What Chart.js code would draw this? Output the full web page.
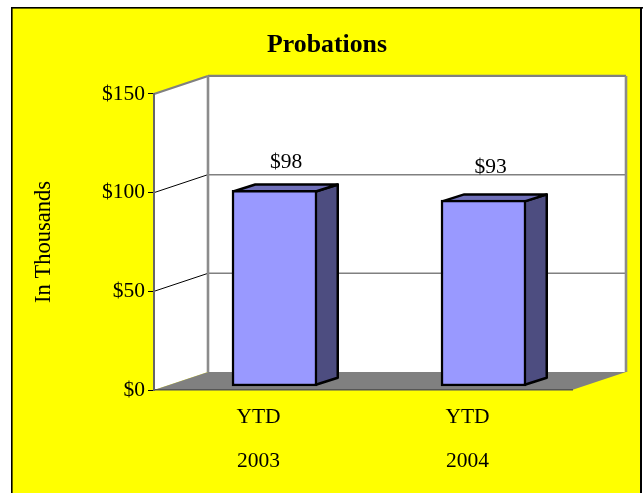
<!DOCTYPE html>
<html><head><meta charset="utf-8">
<style>html,body{margin:0;padding:0;background:#fff}#w{position:relative;width:643px;height:493px}canvas{display:block}</style>
<script src="https://cdn.jsdelivr.net/npm/chart.js@4"></script></head>
<body><div id="w"><canvas id="c" width="643" height="493"></canvas></div>
<script>
const categories = [["YTD","","2003"],["YTD","","2004"]];
const values = [98.4, 93.4];
const tickValues = [0, 50, 100, 150];
const chartTitle = "Probations";
const yTitle = "In Thousands";

const FONT = "'Liberation Serif','Times New Roman',serif";
const WALL = {dx:54, dy:-18};
const BAR = {ox:16, oy:-5.5, dx:22, dy:-7};
const LABEL_NUDGE = [{x:11.5,y:-28.4},{x:7,y:-33.2}];

const scene = {
  id:'scene',
  beforeDraw(chart){
    const {ctx,chartArea:a,scales:{y}} = chart, W=chart.width, H=chart.height;
    ctx.save();
    ctx.fillStyle='#fff'; ctx.fillRect(0,0,W,H);
    ctx.fillStyle='#ffff00'; ctx.fillRect(12,8,629,H-8);
    ctx.fillStyle='#000';
    ctx.fillRect(11,7,632,1.6); ctx.fillRect(11,7,1.6,H-7); ctx.fillRect(640,7,2,H-7);
    const d=WALL;
    ctx.fillStyle='#fff';
    ctx.beginPath();ctx.moveTo(a.left,a.top);ctx.lineTo(a.left+d.dx,a.top+d.dy);ctx.lineTo(a.right+d.dx,a.top+d.dy);
    ctx.lineTo(a.right+d.dx,a.bottom+d.dy);ctx.lineTo(a.left+d.dx,a.bottom+d.dy);ctx.lineTo(a.left,a.bottom);ctx.closePath();ctx.fill();
    ctx.fillStyle='#808080';
    ctx.beginPath();ctx.moveTo(a.left,a.bottom);ctx.lineTo(a.left+d.dx,a.bottom+d.dy);ctx.lineTo(a.right+d.dx,a.bottom+d.dy);ctx.lineTo(a.right,a.bottom);ctx.closePath();ctx.fill();
    tickValues.forEach(v=>{
      const p=y.getPixelForValue(v);
      if(v>0 && v<y.max){
        ctx.strokeStyle='#000';ctx.lineWidth=1;
        ctx.beginPath();ctx.moveTo(a.left,p);ctx.lineTo(a.left+d.dx,p+d.dy);ctx.stroke();
      }
      if(v>0){
        ctx.strokeStyle='#808080';ctx.lineWidth=v===y.max?2.2:1.5;
        if(v===y.max){ctx.beginPath();ctx.moveTo(a.left,p);ctx.lineTo(a.left+d.dx,p+d.dy);ctx.stroke();}
        ctx.beginPath();ctx.moveTo(a.left+d.dx,p+d.dy);ctx.lineTo(a.right+d.dx,p+d.dy);ctx.stroke();
      }
    });
    ctx.strokeStyle='#8c8c8c';ctx.lineWidth=2.6;
    [a.left+d.dx,a.right+d.dx].forEach(x=>{ctx.beginPath();ctx.moveTo(x,a.top+d.dy);ctx.lineTo(x,a.bottom+d.dy);ctx.stroke();});
    ctx.restore();
  },
  beforeDatasetDraw(chart){
    const {ctx}=chart, m=chart.getDatasetMeta(0);
    ctx.save();
    ctx.translate(BAR.ox,BAR.oy);
    m.data.forEach(b=>{
      const l=b.x-b.width/2+1.25,r=b.x+b.width/2-1.25,t=b.y+1.25,bt=b.base-1.25;
      ctx.lineWidth=2.5;ctx.strokeStyle='#000';ctx.lineJoin='round';
      ctx.fillStyle='#4d4d80';
      ctx.beginPath();ctx.moveTo(r,t);ctx.lineTo(r+BAR.dx,t+BAR.dy);ctx.lineTo(r+BAR.dx,bt+BAR.dy);ctx.lineTo(r,bt);ctx.closePath();ctx.fill();ctx.stroke();
      ctx.fillStyle='#6f6fb8';
      ctx.beginPath();ctx.moveTo(l,t);ctx.lineTo(l+BAR.dx,t+BAR.dy);ctx.lineTo(r+BAR.dx,t+BAR.dy);ctx.lineTo(r,t);ctx.closePath();ctx.fill();ctx.stroke();
    });
  },
  afterDatasetDraw(chart){ chart.ctx.restore(); },
  afterDatasetsDraw(chart){
    const {ctx}=chart, m=chart.getDatasetMeta(0);
    ctx.save();
    ctx.fillStyle='#000';ctx.font='21.5px '+FONT;ctx.textAlign='center';ctx.textBaseline='middle';
    m.data.forEach((b,i)=>{
      ctx.fillText('$'+Math.round(values[i]),b.x+BAR.ox+LABEL_NUDGE[i].x,b.y+BAR.oy+LABEL_NUDGE[i].y);
    });
    ctx.restore();
  }
};

new Chart(document.getElementById('c'),{
  type:'bar',
  data:{labels:categories,datasets:[{data:values,base:-0.75,clip:false,backgroundColor:'#9999ff',borderColor:'#000',borderWidth:2.5,borderSkipped:false,barThickness:85}]},
  plugins:[scene],
  options:{
    responsive:false,animation:false,
    layout:{padding:{left:11,right:0,top:0,bottom:0}},
    plugins:{
      legend:{display:false},tooltip:{enabled:false},
      title:{display:true,text:chartTitle,color:'#000',font:{family:FONT,size:25.8,weight:'bold',lineHeight:1.2},padding:{top:30,bottom:33}}
    },
    scales:{
      x:{
        grid:{display:false},
        border:{display:true,color:'#555',width:1.5},
        ticks:{color:'#000',font:{family:FONT,size:21.5,lineHeight:1.03},padding:8,maxRotation:0,autoSkip:false},
        afterFit(s){s.height=103;}
      },
      y:{
        min:0,max:150,
        afterBuildTicks(s){s.ticks=tickValues.map(v=>({value:v}));},
        grid:{drawOnChartArea:false,color:'#000',tickLength:6,tickWidth:1},
        border:{display:true,color:'#666',width:2},
        ticks:{color:'#000',font:{family:FONT,size:21.5},padding:3,callback:v=>'$'+v},
        title:{display:true,text:yTitle,color:'#000',font:{family:FONT,size:22.5},padding:{top:20,bottom:0}},
        afterFit(s){s.width=143;}
      },
      spacer:{
        axis:'y',position:'right',display:true,
        grid:{display:false},border:{display:false},ticks:{display:false},
        afterFit(s){s.width=71;}
      }
    }
  }
});
</script></body></html>
